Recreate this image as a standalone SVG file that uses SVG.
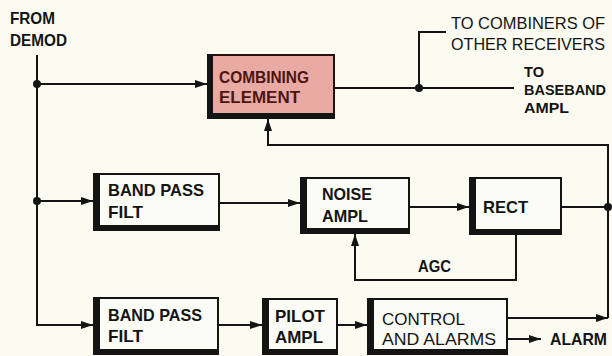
<svg xmlns="http://www.w3.org/2000/svg" width="612" height="356" viewBox="0 0 612 356">
<style>
.t{font-family:"Liberation Sans",Arial,sans-serif;font-size:16.5px;font-weight:bold;fill:#141414}
.s{font-size:15.5px}
.n{font-weight:normal}
.c{fill:#4d1512}
.ln{fill:none;stroke:#141414;stroke-width:2}
.box{fill:#fcfcf6;stroke:#141414;stroke-width:2}
.pink{fill:#e9aaa3;stroke:#2a0f0c;stroke-width:2}
.sh{fill:#141414}
.dot{fill:#141414}
</style>
<defs>
<marker id="ah" markerUnits="userSpaceOnUse" markerWidth="13" markerHeight="9" refX="12" refY="4.5" orient="auto">
<path d="M0,0.5 L12,4.5 L0,8.5 z" fill="#141414"/>
</marker>
</defs>
<rect width="612" height="356" fill="#fbfbf1"/>

<g id="labels">
<text class="t" x="10" y="24" textLength="45" lengthAdjust="spacingAndGlyphs">FROM</text>
<text class="t" x="10" y="46" textLength="57" lengthAdjust="spacingAndGlyphs">DEMOD</text>
<text class="t n" x="451" y="29" textLength="154" lengthAdjust="spacingAndGlyphs">TO COMBINERS OF</text>
<text class="t n" x="451" y="50" textLength="154" lengthAdjust="spacingAndGlyphs">OTHER RECEIVERS</text>
<text class="t s" x="524" y="77" textLength="20" lengthAdjust="spacingAndGlyphs">TO</text>
<text class="t s" x="524" y="95" textLength="82" lengthAdjust="spacingAndGlyphs">BASEBAND</text>
<text class="t s" x="524" y="113" textLength="45" lengthAdjust="spacingAndGlyphs">AMPL</text>
<text class="t" x="418" y="272" textLength="33" lengthAdjust="spacingAndGlyphs">AGC</text>
<text class="t" x="550" y="345" textLength="57" lengthAdjust="spacingAndGlyphs">ALARM</text>
</g>

<g id="connectors">
<path class="ln" d="M37,55 V325 H93" marker-end="url(#ah)"/>
<path class="ln" d="M37,84 H207" marker-end="url(#ah)"/>
<path class="ln" d="M37,201 H93" marker-end="url(#ah)"/>
<path class="ln" d="M220,203 H300" marker-end="url(#ah)"/>
<path class="ln" d="M410,207 H469" marker-end="url(#ah)"/>
<path class="ln" d="M562,207 H608"/>
<path class="ln" d="M608,318 V145 H268 V119" marker-end="url(#ah)"/>
<path class="ln" d="M508,318 H608" marker-end="url(#ah)"/>
<path class="ln" d="M508,339 H541" marker-end="url(#ah)"/>
<path class="ln" d="M516,235 V280 H355 V234" marker-end="url(#ah)"/>
<path class="ln" d="M335,88 H514"/>
<path class="ln" d="M419,88 V32 H446"/>
<path class="ln" d="M219,325 H262" marker-end="url(#ah)"/>
<path class="ln" d="M338,325 H367" marker-end="url(#ah)"/>
<circle class="dot" cx="37" cy="84" r="4"/>
<circle class="dot" cx="37" cy="201" r="4"/>
<circle class="dot" cx="419" cy="88" r="4"/>
<circle class="dot" cx="608" cy="207" r="4"/>
</g>

<g id="combining">
<rect class="pink" x="208" y="55" width="126" height="63"/>
<rect class="sh" x="207" y="54" width="6" height="65"/>
<rect class="sh" x="207" y="113" width="128" height="6"/>
<text class="t c" x="219" y="83" textLength="90" lengthAdjust="spacingAndGlyphs">COMBINING</text>
<text class="t c" x="219" y="103" textLength="81" lengthAdjust="spacingAndGlyphs">ELEMENT</text>
</g>

<g id="bpf1">
<rect class="box" x="94" y="174" width="125" height="56"/>
<rect class="sh" x="93" y="173" width="7" height="58"/>
<rect class="sh" x="93" y="225" width="127" height="6"/>
<text class="t" x="108" y="196" textLength="96" lengthAdjust="spacingAndGlyphs">BAND PASS</text>
<text class="t" x="108" y="218" textLength="35" lengthAdjust="spacingAndGlyphs">FILT</text>
</g>

<g id="noise">
<rect class="box" x="301" y="178" width="108" height="55"/>
<rect class="sh" x="300" y="177" width="7" height="57"/>
<rect class="sh" x="300" y="228" width="110" height="6"/>
<text class="t" x="322" y="200" textLength="50" lengthAdjust="spacingAndGlyphs">NOISE</text>
<text class="t" x="322" y="222" textLength="46" lengthAdjust="spacingAndGlyphs">AMPL</text>
</g>

<g id="rect">
<rect class="box" x="470" y="178" width="91" height="56"/>
<rect class="sh" x="469" y="177" width="7" height="58"/>
<rect class="sh" x="469" y="229" width="93" height="6"/>
<text class="t" x="483" y="213" textLength="45" lengthAdjust="spacingAndGlyphs">RECT</text>
</g>

<g id="bpf2">
<rect class="box" x="94" y="298" width="124" height="56"/>
<rect class="sh" x="93" y="297" width="7" height="58"/>
<rect class="sh" x="93" y="349" width="126" height="6"/>
<text class="t" x="108" y="321" textLength="94" lengthAdjust="spacingAndGlyphs">BAND PASS</text>
<text class="t" x="108" y="342" textLength="35" lengthAdjust="spacingAndGlyphs">FILT</text>
</g>

<g id="pilot">
<rect class="box" x="263" y="299" width="74" height="55"/>
<rect class="sh" x="262" y="298" width="7" height="57"/>
<rect class="sh" x="262" y="349" width="76" height="6"/>
<text class="t" x="275" y="322" textLength="50" lengthAdjust="spacingAndGlyphs">PILOT</text>
<text class="t" x="275" y="343" textLength="48" lengthAdjust="spacingAndGlyphs">AMPL</text>
</g>

<g id="control">
<rect class="box" x="368" y="299" width="139" height="55"/>
<rect class="sh" x="367" y="298" width="7" height="57"/>
<rect class="sh" x="367" y="349" width="141" height="6"/>
<text class="t n" x="382" y="325" textLength="83" lengthAdjust="spacingAndGlyphs">CONTROL</text>
<text class="t n" x="382" y="345" textLength="114" lengthAdjust="spacingAndGlyphs">AND ALARMS</text>
</g>
</svg>
